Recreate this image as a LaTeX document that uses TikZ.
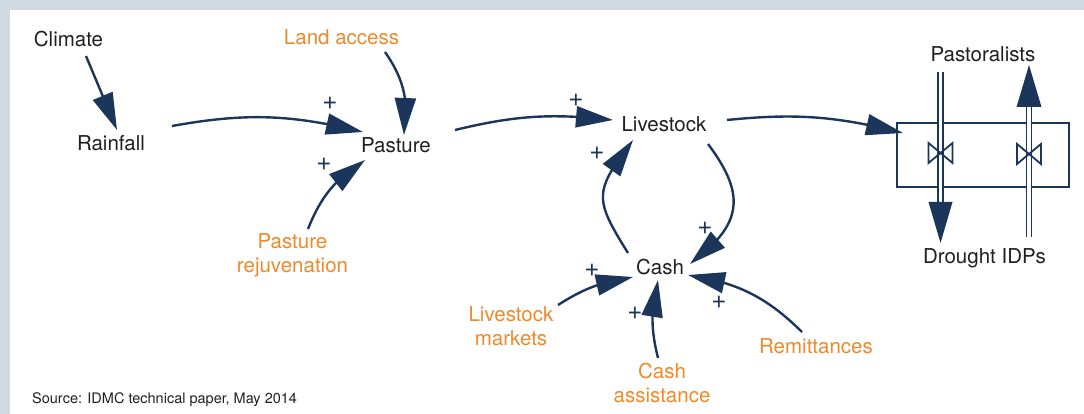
\documentclass[tikz,border=0pt]{standalone}
\usepackage{fontspec}
\setmainfont{TeX Gyre Heros}
\usetikzlibrary{arrows.meta,calc,bending}
\definecolor{navy}{HTML}{1B355B}
\definecolor{orng}{HTML}{F0892A}
\definecolor{framec}{HTML}{D0DAE3}
\definecolor{txt}{HTML}{231F20}
\begin{document}
\begin{tikzpicture}[x=1pt,y=-1pt,
  lbl/.style={inner sep=0pt, anchor=base, font=\fontsize{20.5}{23.5}\selectfont, text=txt, align=center},
  ext/.style={lbl, text=orng},
  plus/.style={inner sep=0pt, font=\fontsize{26}{26}\selectfont, text=navy},
  link/.style={draw=navy, line width=2.4pt, -{Triangle[length=37pt,width=21pt,flex]}},
  pipe/.style={draw=navy, line width=1.8pt, double=white, double distance=3.2pt},
  valve/.style={draw=navy, line width=1.8pt, line join=miter}
]
\useasboundingbox (0,0) rectangle (1084,414);
\fill[framec] (0,0) rectangle (1084,414);
\fill[white] (10,10) rectangle (1084,414);

% nodes (base anchor = baseline of the last line)
\node[lbl] (clim) at (68.5,47) {Climate};
\node[lbl] (rain) at (111,151) {Rainfall};
\node[ext] (land) at (341.5,45) {Land access};
\node[lbl] (past) at (396,153) {Pasture};
\node[ext] (rej) at (292.5,272) {Pasture\\rejuvenation};
\node[lbl] (live) at (664,132) {Livestock};
\node[lbl] (cash) at (660,274) {Cash};
\node[ext] (mkt) at (511,345) {Livestock\\markets};
\node[ext] (ca) at (662,402) {Cash\\assistance};
\node[ext] (rem) at (816,353) {Remittances};
\node[lbl] (pasto) at (983,62) {Pastoralists};
\node[lbl] (idp) at (984.5,263) {Drought IDPs};
\node[draw=navy, line width=1.8pt, minimum width=172pt, minimum height=64pt, inner sep=0pt] (box) at (983,155) {};
\node[inner sep=0pt, anchor=base west, font=\fontsize{14.5}{17}\selectfont, text=txt] (src) at (32,403) {Source: IDMC technical paper, May 2014};

% plus signs
\node[plus] (p1) at (330,103) {+};
\node[plus] (p2) at (324,164) {+};
\node[plus] (p3) at (576,100) {+};
\node[plus] (p4) at (597,153) {+};
\node[plus] (p5) at (705,228) {+};
\node[plus] (p6) at (592,270) {+};
\node[plus] (p7) at (635,313) {+};
\node[plus] (p8) at (719,302) {+};

% causal links
\draw[link] ($(clim.base)+(17.5,9)$) -- ($(rain.base)+(6,-21)$);
\draw[link] ($(rain.base)+(61,-25)$) to[bend left=12] ($(past.base)+(-33,-21)$);
\draw[link] ($(land.base)+(43.5,7)$) to[bend left=22] ($(past.base)+(8,-18)$);
\draw[link] ($(rej.base)+(15.5,-43)$) to[bend left=18] ($(past.base)+(-31,7)$);
\draw[link] ($(past.base)+(59,-23)$) to[bend left=10] ($(live.base)+(-51,-12)$);
\draw[link] ($(live.base)+(63,-12)$) to[bend left=10] ($(box.center)+(-80,-22)$);
\draw[link] ($(live.base)+(44,12)$) .. controls ($(live.base)+(83,64)$) and ($(cash.base)+(82,-49)$) .. ($(cash.base)+(30,-10)$);
\draw[link] ($(cash.base)+(-32,-21)$) .. controls ($(cash.base)+(-66.5,-76.3)$) and ($(live.base)+(-70,60)$) .. ($(live.base)+(-31,8)$);
\draw[link] ($(mkt.base)+(47,-40)$) to[bend left=12] ($(cash.base)+(-27,3)$);
\draw[link] ($(ca.base)+(-4,-44)$) to[bend left=14] ($(cash.base)+(-2,6)$);
\draw[link] ($(rem.base)+(-14,-21)$) to[bend right=18] ($(cash.base)+(28,1)$);

% flow 1: pastoralists -> drought IDPs
\coordinate (f1a) at ($(pasto.base)+(-42.5,10)$);
\coordinate (f1b) at ($(idp.base)+(-44,-20)$);
\coordinate (f1t) at (f1a |- f1b);
\draw[pipe] (f1a) -- ($(f1t)+(0,-39)$);
\fill[navy] ($(f1t)+(-12,-41)$) -- ($(f1t)+(12,-41)$) -- (f1t) -- cycle;
\coordinate (v1) at ($(f1a |- box.center)+(0,-2)$);
\draw[valve] ($(v1)+(-12,-10)$) -- ($(v1)+(-12,10)$) -- ($(v1)+(12,-10)$) -- ($(v1)+(12,10)$) -- cycle;

% flow 2: drought IDPs -> pastoralists
\coordinate (f2a) at ($(idp.base)+(44.5,-26)$);
\coordinate (f2b) at ($(pasto.base)+(46,3)$);
\coordinate (f2t) at (f2a |- f2b);
\draw[pipe] (f2a) -- ($(f2t)+(0,40)$);
\fill[navy] ($(f2t)+(-12.5,42)$) -- ($(f2t)+(12.5,42)$) -- (f2t) -- cycle;
\coordinate (v2) at ($(f2a |- box.center)+(0,-1)$);
\draw[valve] ($(v2)+(-12,-10)$) -- ($(v2)+(-12,10)$) -- ($(v2)+(12,-10)$) -- ($(v2)+(12,10)$) -- cycle;
\end{tikzpicture}
\end{document}
